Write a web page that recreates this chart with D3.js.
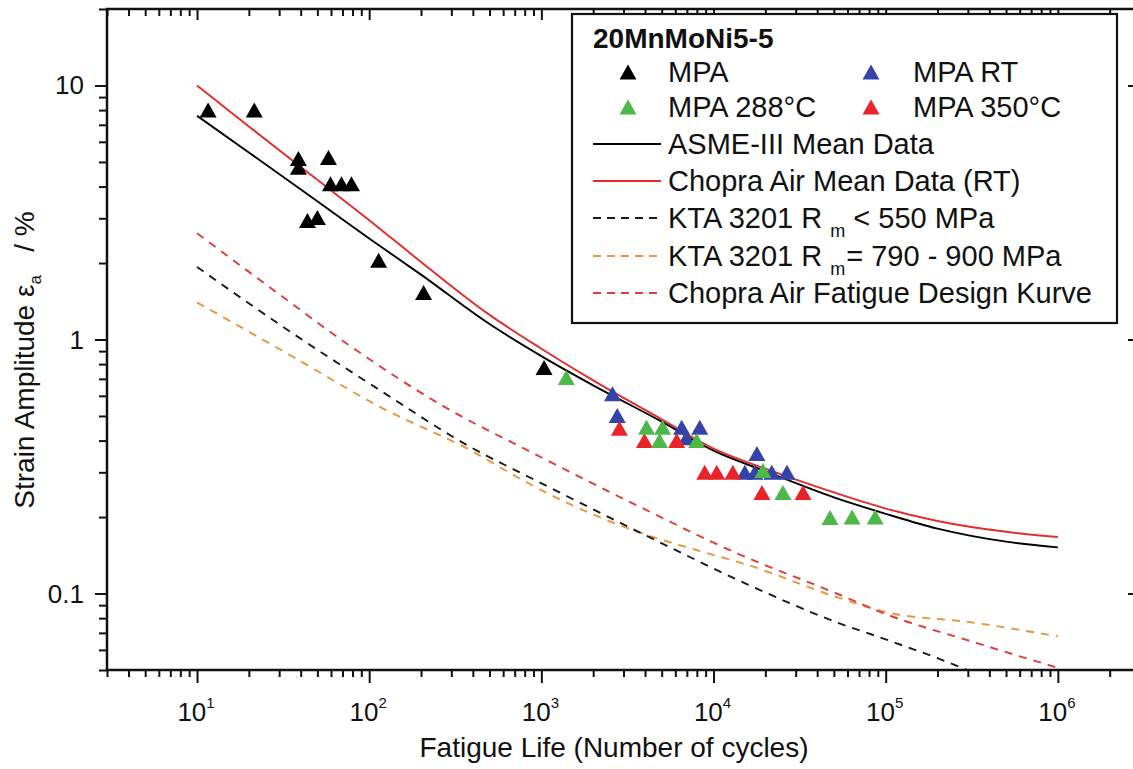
<!DOCTYPE html>
<html>
<head>
<meta charset="utf-8">
<script src="https://cdn.jsdelivr.net/npm/d3@7"></script>
<style>
  html, body { margin: 0; padding: 0; background: #ffffff; }
  svg { display: block; font-family: "Liberation Sans", Arial, sans-serif; }
</style>
</head>
<body>
<svg id="chart" width="1133" height="769"></svg>
<script>
// ---- Fatigue data: 20MnMoNi5-5 strain-life results ----
// Test points (cycles to failure, strain amplitude in %)
const mpaN    = [11.6, 21.5, 38.8, 38.8, 58, 59.6, 69, 78.9, 43.8, 50, 113.5, 207, 1037];
const mpaEps  = [8.0, 8.0, 5.16, 4.76, 5.2, 4.1, 4.1, 4.1, 2.94, 3.02, 2.05, 1.53, 0.776];

const rtN     = [2590, 2760, 6950, 6530, 8320, 17870, 15200, 17400, 21800, 26700];
const rtEps   = [0.612, 0.502, 0.41, 0.451, 0.451, 0.356, 0.30, 0.30, 0.30, 0.30];

const t350N   = [2840, 3970, 6110, 8890, 10440, 12950, 19100, 33100];
const t350Eps = [0.447, 0.40, 0.40, 0.30, 0.30, 0.30, 0.25, 0.25];

const t288N   = [1396, 4083, 5060, 4857, 7980, 19360, 25300, 47500, 63800, 86900];
const t288Eps = [0.708, 0.451, 0.451, 0.40, 0.40, 0.305, 0.25, 0.199, 0.20, 0.20];

// Reference curves (cycles, strain amplitude in %)
const asmeMeanN   = [10, 20, 50, 100, 200, 500, 1000, 2000, 5000, 1e4, 2e4, 5e4, 1e5, 2e5, 5e5, 1e6];
const asmeMeanEps = [7.6, 5.45, 3.5, 2.5, 1.8, 1.15, 0.86, 0.66, 0.475, 0.365, 0.303, 0.239, 0.206, 0.18, 0.16, 0.152];

const chopraMeanN   = [10, 20, 50, 100, 200, 500, 1000, 2000, 5000, 1e4, 2e4, 5e4, 1e5, 2e5, 5e5, 1e6];
const chopraMeanEps = [10.0, 6.9, 4.25, 2.95, 2.02, 1.25, 0.92, 0.69, 0.485, 0.372, 0.31, 0.25, 0.216, 0.193, 0.175, 0.167];

const kta550N   = [10, 35, 116, 388, 888, 4450, 15600, 52000, 1e5, 2.72e5, 4e5];
const kta550Eps = [1.93, 1.07, 0.63, 0.377, 0.283, 0.164, 0.109, 0.077, 0.066, 0.0513, 0.046];

const kta790N   = [10, 35, 116, 388, 726, 1062, 3715, 8320, 15600, 52000, 1.02e5, 3.1e5, 1e6];
const kta790Eps = [1.40, 0.865, 0.542, 0.366, 0.287, 0.25, 0.174, 0.147, 0.13, 0.0968, 0.0843, 0.0771, 0.0678];

const chopraDesignN   = [10, 28, 78, 265, 910, 3700, 14000, 52000, 1e5, 3.1e5, 1e6];
const chopraDesignEps = [2.62, 1.56, 0.94, 0.55, 0.355, 0.22, 0.143, 0.10, 0.083, 0.065, 0.051];

// Axis ticks
const xMajorTicks = [10, 100, 1e3, 1e4, 1e5, 1e6];
const xTickExponents = ["1", "2", "3", "4", "5", "6"];
const yMajorTicks = [0.1, 1, 10];
const yTickLabels = ["0.1", "1", "10"];

// Legend text
const legendTitle = "20MnMoNi5-5";

// ---- Layout ----
const svg = d3.select("#chart");
const plot = { left: 107, right: 1140, top: 9, bottom: 670 };

const x = d3.scaleLog().domain([3, 3e6]).range([plot.left, plot.right]);
const y = d3.scaleLog().domain([0.05, 20]).range([plot.bottom, plot.top]);

function minorTicks(scale) {
  const [a, b] = scale.domain();
  const out = [];
  for (let e = Math.floor(Math.log10(a)); e <= Math.ceil(Math.log10(b)); e++) {
    for (let m = 2; m <= 9; m++) {
      const v = m * Math.pow(10, e);
      if (v >= a * 0.999 && v <= b * 1.001) out.push(v);
    }
  }
  return out;
}
const xMinor = minorTicks(x);
const yMinor = minorTicks(y);

svg.append("defs").append("clipPath").attr("id", "plotClip")
  .append("rect")
  .attr("x", plot.left).attr("y", plot.top)
  .attr("width", plot.right - plot.left).attr("height", plot.bottom - plot.top);

// ---- Axes (ticks outward on bottom/left, inward on top/right) ----
function styleAxis(g) {
  g.select(".domain").remove();
  g.selectAll(".tick line").attr("stroke", "#111").attr("stroke-width", 2);
  g.selectAll(".tick text").remove();
}
const axes = svg.append("g");
axes.append("g").attr("transform", `translate(0,${plot.bottom})`)
  .call(d3.axisBottom(x).tickValues(xMajorTicks).tickSize(13).tickFormat("")).call(styleAxis);
axes.append("g").attr("transform", `translate(0,${plot.bottom})`)
  .call(d3.axisBottom(x).tickValues(xMinor).tickSize(7).tickFormat("")).call(styleAxis);
axes.append("g").attr("transform", `translate(0,${plot.top})`)
  .call(d3.axisBottom(x).tickValues(xMajorTicks).tickSize(11).tickFormat("")).call(styleAxis);
axes.append("g").attr("transform", `translate(0,${plot.top})`)
  .call(d3.axisBottom(x).tickValues(xMinor).tickSize(7).tickFormat("")).call(styleAxis);
axes.append("g").attr("transform", `translate(${plot.left},0)`)
  .call(d3.axisLeft(y).tickValues(yMajorTicks).tickSize(12).tickFormat("")).call(styleAxis);
axes.append("g").attr("transform", `translate(${plot.left},0)`)
  .call(d3.axisLeft(y).tickValues(yMinor).tickSize(8).tickFormat("")).call(styleAxis);
axes.append("g").attr("transform", `translate(${plot.right},0)`)
  .call(d3.axisLeft(y).tickValues(yMajorTicks).tickSize(12).tickFormat("")).call(styleAxis);
axes.append("g").attr("transform", `translate(${plot.right},0)`)
  .call(d3.axisLeft(y).tickValues(yMinor).tickSize(7).tickFormat("")).call(styleAxis);

// Plot frame
svg.append("rect")
  .attr("x", plot.left).attr("y", plot.top)
  .attr("width", plot.right - plot.left).attr("height", plot.bottom - plot.top)
  .attr("fill", "none").attr("stroke", "#111").attr("stroke-width", 2.5);

// Tick labels
const xLab = svg.append("g").attr("font-size", 26).attr("fill", "#111").attr("text-anchor", "middle");
xMajorTicks.forEach((v, i) => {
  const t = xLab.append("text").attr("x", x(v) - 1).attr("y", 721);
  t.append("tspan").text("10");
  t.append("tspan").attr("font-size", 15).attr("dy", -13).text(xTickExponents[i]);
});
const yLab = svg.append("g").attr("font-size", 26).attr("fill", "#111").attr("text-anchor", "end");
yMajorTicks.forEach((v, i) => {
  yLab.append("text").attr("x", 84).attr("y", y(v) + 9).text(yTickLabels[i]);
});

// Axis titles
svg.append("text")
  .attr("x", 614).attr("y", 757).attr("text-anchor", "middle")
  .attr("font-size", 28).attr("fill", "#111")
  .text("Fatigue Life (Number of cycles)");

const yTitle = svg.append("text")
  .attr("transform", "translate(34,360) rotate(-90)")
  .attr("text-anchor", "middle").attr("font-size", 28).attr("fill", "#111");
yTitle.append("tspan").text("Strain Amplitude \u03b5");
yTitle.append("tspan").attr("font-size", 17).attr("dy", 7).text("a");
yTitle.append("tspan").attr("dy", -7).text("\u00a0\u00a0\u00a0/ %");

// ---- Curves ----
const line = d3.line()
  .x(d => x(d[0])).y(d => y(d[1]))
  .curve(d3.curveMonotoneX);
const zip = (a, b) => a.map((v, i) => [v, b[i]]);

const curves = [
  { n: kta790N, e: kta790Eps, color: "#e8963a", dash: "8,7" },
  { n: kta550N, e: kta550Eps, color: "#1a1a1a", dash: "8,7" },
  { n: chopraDesignN, e: chopraDesignEps, color: "#e23a3a", dash: "8,7" },
  { n: asmeMeanN, e: asmeMeanEps, color: "#000000", dash: null },
  { n: chopraMeanN, e: chopraMeanEps, color: "#e52b2b", dash: null }
];
const curveLayer = svg.append("g").attr("clip-path", "url(#plotClip)");
curves.forEach(c => {
  curveLayer.append("path")
    .attr("d", line(zip(c.n, c.e)))
    .attr("fill", "none")
    .attr("stroke", c.color)
    .attr("stroke-width", 1.9)
    .attr("stroke-dasharray", c.dash);
});

// ---- Markers ----
const triW = 17, triH = 15;
const triPath = `M0,${-triH / 2}L${triW / 2},${triH / 2}L${-triW / 2},${triH / 2}Z`;
const series = [
  { n: mpaN, e: mpaEps, color: "#000000" },
  { n: rtN, e: rtEps, color: "#3343aa" },
  { n: t350N, e: t350Eps, color: "#e8242a" },
  { n: t288N, e: t288Eps, color: "#4cb848" }
];
const markLayer = svg.append("g");
series.forEach(s => {
  markLayer.selectAll(null)
    .data(zip(s.n, s.e))
    .enter().append("path")
    .attr("d", triPath)
    .attr("transform", d => `translate(${x(d[0])},${y(d[1])})`)
    .attr("fill", s.color);
});

// ---- Legend ----
const lg = svg.append("g").attr("font-size", 29).attr("fill", "#111");
lg.append("rect")
  .attr("x", 572).attr("y", 14).attr("width", 545).attr("height", 309)
  .attr("fill", "#ffffff").attr("stroke", "#111").attr("stroke-width", 2.2);
lg.append("text").attr("x", 593).attr("y", 48)
  .attr("font-weight", "bold").attr("font-size", 28).text(legendTitle);

const markerEntries = [
  { label: "MPA", color: "#000000", mx: 628, tx: 668, cy: 72 },
  { label: "MPA RT", color: "#3343aa", mx: 871, tx: 913, cy: 72 },
  { label: "MPA 288\u00b0C", color: "#4cb848", mx: 628, tx: 668, cy: 107 },
  { label: "MPA 350\u00b0C", color: "#e8242a", mx: 871, tx: 913, cy: 107 }
];
markerEntries.forEach(m => {
  lg.append("path").attr("d", triPath)
    .attr("transform", `translate(${m.mx},${m.cy})`).attr("fill", m.color);
  lg.append("text").attr("x", m.tx).attr("y", m.cy + 10).text(m.label);
});

const lineEntries = [
  { color: "#000000", dash: null, cy: 144 },
  { color: "#e52b2b", dash: null, cy: 181 },
  { color: "#1a1a1a", dash: "8,6", cy: 218 },
  { color: "#e8963a", dash: "8,6", cy: 256 },
  { color: "#e23a3a", dash: "8,6", cy: 293 }
];
lineEntries.forEach(l => {
  lg.append("line").attr("x1", 593).attr("x2", 661)
    .attr("y1", l.cy).attr("y2", l.cy)
    .attr("stroke", l.color).attr("stroke-width", 1.9)
    .attr("stroke-dasharray", l.dash);
});
lg.append("text").attr("x", 668).attr("y", 154).text("ASME-III Mean Data");
lg.append("text").attr("x", 668).attr("y", 191).text("Chopra Air Mean Data (RT)");
const k1 = lg.append("text").attr("x", 668).attr("y", 228);
k1.append("tspan").text("KTA 3201 R");
k1.append("tspan").attr("font-size", 18).attr("dx", 8).attr("dy", 9).text("m");
k1.append("tspan").attr("dy", -9).text("\u00a0< 550 MPa");
const k2 = lg.append("text").attr("x", 668).attr("y", 266);
k2.append("tspan").text("KTA 3201 R");
k2.append("tspan").attr("font-size", 18).attr("dx", 8).attr("dy", 9).text("m");
k2.append("tspan").attr("dx", 1).attr("dy", -9).text("= 790 - 900 MPa");
lg.append("text").attr("x", 668).attr("y", 303).text("Chopra Air Fatigue Design Kurve");
</script>
</body>
</html>
